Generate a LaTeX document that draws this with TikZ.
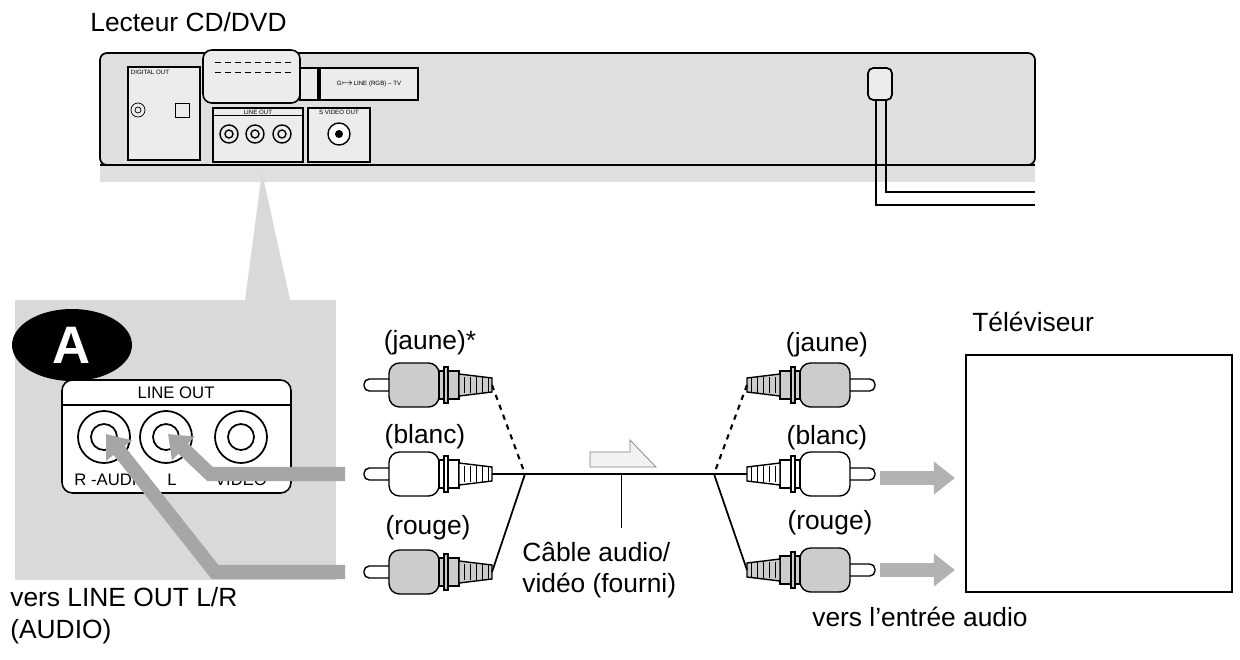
\documentclass[tikz,border=0pt]{standalone}
\usepackage{fontspec}
\setmainfont{Liberation Sans}
\usetikzlibrary{arrows.meta,positioning}
\tikzset{
  lbl/.style={font=\fontsize{15}{17}\selectfont,inner sep=0pt},
  small/.style={font=\fontsize{9.5}{10}\selectfont,inner sep=0pt},
  tiny/.style={font=\fontsize{3.5}{4}\selectfont,inner sep=0pt},
  panel/.style={draw=black,line width=0.9pt,fill=white},
  feed/.style={line width=8pt,draw=gray!60,-{Triangle[length=12pt,width=18pt]}},
  plug/.pic={
    % tip towards \pdir = 1 (left) or -1 (right)
    \begin{scope}[xscale=\pdir]
    \draw[fill=white,line width=0.8pt,rounded corners=3pt] (0,-6) rectangle (30,6);
    \draw[fill=#1,line width=0.8pt,rounded corners=6pt] (25,-22) rectangle (75,22);
    \draw[fill=#1,line width=0.8pt] (75,-14) rectangle (95,14);
    \draw[fill=#1,line width=0.8pt] (80,-18) rectangle (84,18);
    \draw[fill=#1,line width=0.8pt] (95,-11) -- (128,-7) -- (128,7) -- (95,11) -- cycle;
    \foreach \k in {100,106,...,124} \draw[line width=0.5pt] (\k,-8) -- (\k,8);
    \end{scope}
  }
}
\def\pdir{1}
\begin{document}
\begin{tikzpicture}[x=0.02cm,y=-0.02cm]
\useasboundingbox (0,0) rectangle (1240,659);

%%% PLAYER %%%
\node[lbl,anchor=west] (player) at (90,22) {Lecteur CD/DVD};
\fill[gray!25] (100,160) rectangle (1035,182);
\draw[line width=1pt,fill=gray!25,rounded corners=4pt] (100,53) rectangle (1035,165);
\draw[line width=1.2pt] (100,165) -- (1035,165);
\draw[panel,fill=gray!15] (128,67) rectangle (200,160);
\node[tiny] at (150,72) {DIGITAL OUT};
\draw (138,110) circle (7) (138,110) circle (3);
\draw (175,103) rectangle (189,117);
\draw[panel,fill=gray!15,rounded corners=5pt] (203,50) rectangle (300,103);
\foreach \k in {215,225,...,285} {\draw (\k,62) -- (\k+6,62); \draw (\k,72) -- (\k+6,72);}
\draw[panel,fill=gray!15] (300,68) rectangle (318,100);
\draw[panel,fill=gray!15] (320,68) rectangle (418,100);
\node[tiny] at (369,84) {G$\mapsto$LINE (RGB) -- TV};
\draw[panel,fill=gray!15] (213,108) rectangle (303,162);
\draw (213,115) -- (303,115);
\node[tiny] at (258,112) {LINE OUT};
\foreach \cx in {229,255,282} \draw[line width=0.8pt] (\cx,134) circle (9) (\cx,134) circle (4);
\draw[panel,fill=gray!15] (308,108) rectangle (370,162);
\node[tiny] at (339,112) {S VIDEO OUT};
\draw[line width=0.8pt,fill=white] (339,134) circle (11);
\fill (339,134) circle (4);
\draw[line width=1pt,fill=gray!15,rounded corners=3pt] (868,68) rectangle (892,100);
\draw[line width=1pt] (876,100) -- (876,205) -- (1035,205)
  (886,100) -- (886,192) -- (1035,192);

%%% CALLOUT %%%
\fill[gray!30] (15,300) rectangle (336,580);
\fill[gray!30] (245,300) -- (262,172) -- (290,300) -- cycle;
\fill[black] (72,345) ellipse [x radius=60,y radius=36];
\node[font=\fontsize{30}{30}\selectfont\bfseries,text=white] (labA) at (72,345) {A};
\draw[panel,rounded corners=6pt] (62,380) rectangle (291,493);
\draw[line width=0.9pt] (62,405) -- (291,405);
\node[small] (lineout) at (176,393) {LINE OUT};
\foreach \cx in {104,166,241} {
  \draw[line width=1pt,fill=white] (\cx,437) circle (26);
  \draw[line width=1pt] (\cx,437) circle (13);
}
\node[small] at (112,480) {R -AUDIO};
\node[small] at (172,480) {L};
\node[small] at (241,480) {VIDEO};
\draw[feed,draw=gray!70] (345,474) -- (210,474) -- (168,434);
\draw[feed,draw=gray!70] (345,572) -- (215,572) -- (106,434);
\node[lbl,anchor=west] (vers) at (10,597) {vers LINE OUT L/R};
\node[lbl,anchor=west] (audio) at (10,632) {(AUDIO)};

%%% CABLE %%%
\coordinate (jl) at (525,474);
\coordinate (jr) at (714,474);
\pic at (364,385) {plug=gray!40};
\pic at (364,474) {plug=white};
\pic at (364,572) {plug=gray!40};
\node[lbl] (jauneL) at (430,343) {(jaune)*};
\node[lbl] (blancL) at (425,437) {(blanc)};
\node[lbl] (rougeL) at (428,528) {(rouge)};
\draw[line width=1.2pt,dashed] (492,385) -- (jl);
\draw[line width=1pt] (492,474) -- (jl) (492,572) -- (jl);
\draw[line width=1.4pt] (jl) -- (jr);
\draw[gray,fill=gray!10] (590,452) -- (630,452) -- (630,440) -- (656,467) -- (590,467) -- cycle;
\draw (621,474) -- (621,528);
\node[lbl,anchor=west] (cable) at (522,552) {Câble audio/};
\node[lbl,anchor=west] (fourni) at (522,586) {vidéo (fourni)};
{\def\pdir{-1}
\pic at (875,385) {plug=gray!40};
\pic at (875,474) {plug=white};
\pic at (875,570) {plug=gray!40};
}
\draw[line width=1.2pt,dashed] (747,385) -- (jr);
\draw[line width=1pt] (747,474) -- (jr) (747,570) -- (jr);
\node[lbl] (jauneR) at (827,345) {(jaune)};
\node[lbl] (blancR) at (827,438) {(blanc)};
\node[lbl] (rougeR) at (830,523) {(rouge)};
\draw[feed] (880,478) -- (955,478);
\draw[feed] (880,570) -- (955,570);

%%% TV %%%
\node[lbl,anchor=west] (tv) at (972,322) {Téléviseur};
\draw[line width=1.2pt] (966,355) rectangle (1232,592);
\node[lbl] (entree) at (920,617) {vers l'entrée audio};
\end{tikzpicture}
\end{document}
